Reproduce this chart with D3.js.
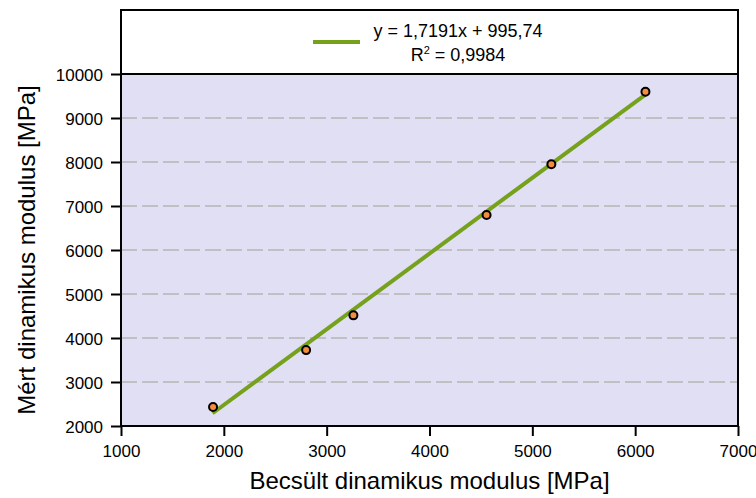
<!DOCTYPE html>
<html>
<head>
<meta charset="utf-8">
<script src="https://cdn.jsdelivr.net/npm/d3@7"></script>
<style>
  body { margin: 0; background: #fff; }
  text { font-family: "Liberation Sans", Arial, sans-serif; }
</style>
</head>
<body>
<div id="chart"></div>
<script>
var svgWidth = 756;
var svgHeight = 498;

// measured points
var estimated = [1895, 2800, 3260, 4555, 5185, 6100];
var measured = [2430, 3725, 4515, 6795, 7950, 9595];

// trend line end points as drawn
var trendX = [1890, 6100];
var trendY = [2290, 9530];

var xTicks = [1000, 2000, 3000, 4000, 5000, 6000, 7000];
var yTicks = [2000, 3000, 4000, 5000, 6000, 7000, 8000, 9000, 10000];
var gridTicks = [3000, 4000, 5000, 6000, 7000, 8000, 9000];

var eqLine1 = "y = 1,7191x + 995,74";
var eqLine2 = "0,9984";

var plot = { left: 121, right: 738, top: 74, bottom: 426 };
var boxTop = 10;

var svg = d3.select("#chart")
  .append("svg")
  .attr("width", svgWidth)
  .attr("height", svgHeight);

var x = d3.scaleLinear().domain([1000, 7000]).range([plot.left, plot.right]);
var y = d3.scaleLinear().domain([2000, 10000]).range([plot.bottom, plot.top]);

// plot background
svg.append("rect")
  .attr("x", plot.left)
  .attr("y", plot.top)
  .attr("width", plot.right - plot.left)
  .attr("height", plot.bottom - plot.top)
  .attr("fill", "#e1dff3");

// gridlines
svg.append("g")
  .selectAll("line")
  .data(gridTicks)
  .enter()
  .append("line")
  .attr("x1", plot.left)
  .attr("x2", plot.right)
  .attr("y1", d => y(d))
  .attr("y2", d => y(d))
  .attr("stroke", "#c0bfc3")
  .attr("stroke-width", 2)
  .attr("stroke-dasharray", "16,5");

// trend line
svg.append("line")
  .attr("x1", x(trendX[0]))
  .attr("y1", y(trendY[0]))
  .attr("x2", x(trendX[1]))
  .attr("y2", y(trendY[1]))
  .attr("stroke", "#76a11c")
  .attr("stroke-width", 4);

// points
svg.append("g")
  .selectAll("circle")
  .data(estimated)
  .enter()
  .append("circle")
  .attr("cx", d => x(d))
  .attr("cy", (d, i) => y(measured[i]))
  .attr("r", 4)
  .attr("fill", "#f58b3c")
  .attr("stroke", "#000")
  .attr("stroke-width", 2);

// axes
var bottomAxis = d3.axisBottom(x).tickValues(xTicks).tickSize(10).tickPadding(9).tickFormat(d3.format("d"));
var leftAxis = d3.axisLeft(y).tickValues(yTicks).tickSize(10).tickPadding(8).tickFormat(d3.format("d"));

var xAxis = svg.append("g")
  .attr("transform", `translate(0, ${plot.bottom})`)
  .call(bottomAxis);

var yAxis = svg.append("g")
  .attr("transform", `translate(${plot.left}, 0)`)
  .call(leftAxis);

[xAxis, yAxis].forEach(function(a) {
  a.select(".domain").remove();
  a.selectAll("line").attr("stroke", "#000").attr("stroke-width", 2);
  a.selectAll("text")
    .attr("fill", "#000")
    .attr("font-size", 17)
    .style("font-size", "17px")
    .style("font-family", "'Liberation Sans', Arial, sans-serif");
});
yAxis.selectAll("text").attr("dy", "0.36em");

// frame
var frame = svg.append("g").attr("stroke", "#000").attr("fill", "none");
frame.append("rect")
  .attr("x", plot.left)
  .attr("y", boxTop)
  .attr("width", plot.right - plot.left)
  .attr("height", plot.bottom - boxTop)
  .attr("stroke-width", 2);
frame.append("line")
  .attr("x1", plot.left)
  .attr("x2", plot.right)
  .attr("y1", plot.top)
  .attr("y2", plot.top)
  .attr("stroke-width", 2);

// legend
var legend = svg.append("g");
legend.append("line")
  .attr("x1", 313)
  .attr("x2", 360)
  .attr("y1", 42)
  .attr("y2", 42)
  .attr("stroke", "#76a11c")
  .attr("stroke-width", 4);
legend.append("text")
  .attr("x", 458)
  .attr("y", 37)
  .attr("text-anchor", "middle")
  .style("font-size", "18px")
  .text(eqLine1);
var r2 = legend.append("text")
  .attr("x", 458)
  .attr("y", 61)
  .attr("text-anchor", "middle")
  .style("font-size", "18px");
r2.append("tspan").text("R");
r2.append("tspan").attr("dy", -7).style("font-size", "11px").text("2");
r2.append("tspan").attr("dy", 7).text(" = " + eqLine2);

// axis titles
svg.append("text")
  .attr("x", (plot.left + plot.right) / 2)
  .attr("y", 489)
  .attr("text-anchor", "middle")
  .style("font-size", "24px")
  .text("Becsült dinamikus modulus [MPa]");

svg.append("text")
  .attr("transform", `translate(35, ${(plot.top + plot.bottom) / 2}) rotate(-90)`)
  .attr("text-anchor", "middle")
  .style("font-size", "24px")
  .text("Mért dinamikus modulus [MPa]");
</script>
</body>
</html>
